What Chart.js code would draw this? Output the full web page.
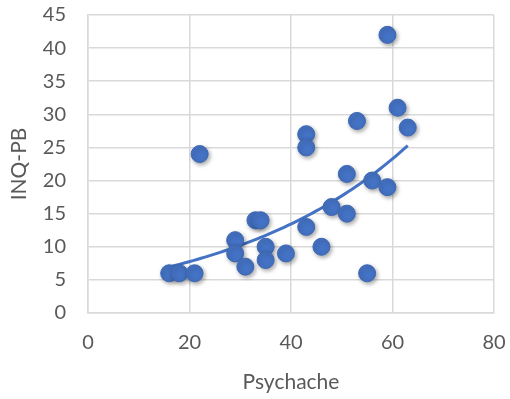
<!DOCTYPE html>
<html lang="en">
<head>
    <meta charset="UTF-8">
    <title>Psychache vs INQ-PB</title>
    <script src="https://cdn.jsdelivr.net/npm/chart.js"></script>
    <style>
        body { margin: 0; background: #ffffff; }
        #wrap { width: 510px; height: 399px; position: relative; }
    </style>
</head>
<body>
    <div id="wrap"><canvas id="chart"></canvas></div>

    <script>
        // Data
        const psychache = [59, 61, 63, 53, 43, 43, 22, 51, 56, 59, 48, 51, 33, 34, 43, 29, 35, 46, 29, 39, 31, 35, 16, 18, 21, 55];
        const inqPB     = [42, 31, 28, 29, 27, 25, 24, 21, 20, 19, 16, 15, 14, 14, 13, 11, 10, 10,  9,  9,  7,  8,  6,  6,  6,  6];
        const xTicks = [0, 20, 40, 60, 80];
        const yTicks = [0, 5, 10, 15, 20, 25, 30, 35, 40, 45];

        const blue = '#4472C4';
        const grey = '#595959';
        const gridColor = '#d9d9d9';
        const font = { family: 'Lato, "Open Sans", sans-serif', size: 20 };
        const titleFont = { family: 'Lato, "Open Sans", sans-serif', size: 21 };

        const points = psychache.map((x, i) => ({ x: x, y: inqPB[i] }));

        // exponential trendline (least squares on ln y), like Excel
        const n = points.length;
        const mx = psychache.reduce((a, b) => a + b, 0) / n;
        const ly = inqPB.map(v => Math.log(v));
        const my = ly.reduce((a, b) => a + b, 0) / n;
        let sxy = 0, sxx = 0;
        psychache.forEach((x, i) => { sxy += (x - mx) * (ly[i] - my); sxx += (x - mx) * (x - mx); });
        const b = sxy / sxx;
        const a = Math.exp(my - b * mx);
        const xMin = Math.min(...psychache), xMax = Math.max(...psychache);
        const trend = [];
        for (let s = 0; s <= 60; s++) {
            const x = xMin + (xMax - xMin) * s / 60;
            trend.push({ x: x, y: a * Math.exp(b * x) });
        }

        const shadow = {
            id: 'shadow',
            beforeDatasetDraw(chart, args) {
                if (args.index !== 1) return;
                const ctx = chart.ctx;
                ctx.save();
                ctx.shadowColor = 'rgba(0,0,0,0.35)';
                ctx.shadowBlur = 4;
                ctx.shadowOffsetX = 1.5;
                ctx.shadowOffsetY = 2;
            },
            afterDatasetDraw(chart, args) {
                if (args.index !== 1) return;
                chart.ctx.restore();
            }
        };

        const noPad = axis => {
            axis.paddingTop = 0; axis.paddingBottom = 0;
            axis.paddingLeft = 0; axis.paddingRight = 0;
        };

        new Chart(document.getElementById('chart'), {
            type: 'scatter',
            data: {
                datasets: [{
                    type: 'line',
                    data: trend,
                    borderColor: blue,
                    borderWidth: 3,
                    pointRadius: 0,
                    tension: 0,
                    fill: false,
                    order: 2
                }, {
                    data: points,
                    backgroundColor: blue,
                    borderColor: '#3d67b3',
                    borderWidth: 1,
                    pointRadius: 8.5,
                    order: 1
                }]
            },
            plugins: [shadow],
            options: {
                responsive: true,
                maintainAspectRatio: false,
                animation: false,
                layout: { padding: { top: 15, right: 16, left: 3, bottom: 0 } },
                plugins: { legend: { display: false }, tooltip: { enabled: false } },
                scales: {
                    x: {
                        type: 'linear',
                        min: 0, max: 80,
                        afterBuildTicks: axis => { axis.ticks = xTicks.map(v => ({ value: v })); },
                        afterFit: axis => { axis.height = 86; noPad(axis); },
                        grid: { color: gridColor, lineWidth: 1.5, drawTicks: false },
                        border: { color: gridColor, width: 1.5 },
                        ticks: { color: grey, font: font, padding: 18, maxRotation: 0 },
                        title: { display: true, text: 'Psychache', color: grey, font: titleFont, padding: { top: 8 } }
                    },
                    y: {
                        type: 'linear',
                        min: 0, max: 45,
                        afterBuildTicks: axis => { axis.ticks = yTicks.map(v => ({ value: v })); },
                        afterFit: axis => { axis.width = 85; noPad(axis); },
                        grid: { color: gridColor, lineWidth: 1.5, drawTicks: false },
                        border: { color: gridColor, width: 1.5 },
                        ticks: { color: grey, font: font, padding: 22 },
                        title: { display: true, text: 'INQ-PB', color: grey, font: titleFont, padding: { bottom: 0 } }
                    }
                }
            }
        });
    </script>
</body>
</html>
